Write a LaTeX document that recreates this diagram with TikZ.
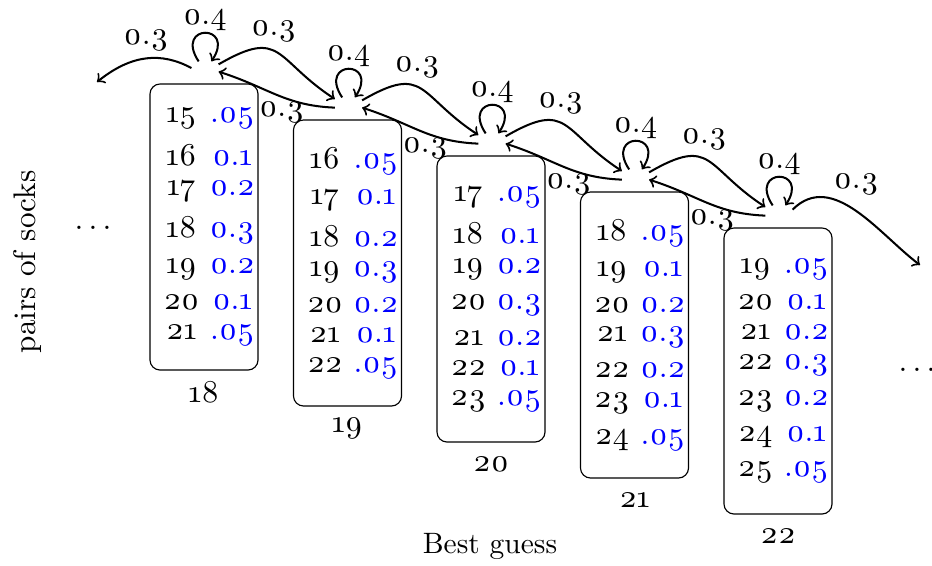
\documentclass[tikz,border=0pt]{standalone}
\usepackage{fontspec}
\setmainfont{lmroman10-regular}[Extension=.otf, Numbers=OldStyle]
\usetikzlibrary{matrix}
\begin{document}
\begin{tikzpicture}[x=0.3461pt,y=0.3461pt,
  font=\fontsize{11}{13}\selectfont,
  st/.style={inner sep=0pt, minimum width=9pt, minimum height=4.15pt},
  edge/.style={line width=0.7pt,->},
  frame/.style={draw, thin, rounded corners=3.5pt, minimum width=37.4pt, minimum height=99pt, inner sep=0pt},
  tab/.style={matrix of nodes, inner sep=0pt, column sep=0.7pt, row sep=0.3pt,
    nodes={inner xsep=1.5pt, inner ysep=2.3pt},
    column 2/.style={nodes={text=blue}}},
  lab/.style={inner sep=3pt}
]
\useasboundingbox (0,0) rectangle (932,565);

% states
\node[st] (s1) at (205,497) {};
\node[st] (s2) at (348.5,461) {};
\node[st] (s3) at (492,425) {};
\node[st] (s4) at (635.5,389) {};
\node[st] (s5) at (779,353) {};

% frames
\node[frame] (f1) at (204,338) {};
\node[frame] (f2) at (347.5,302) {};
\node[frame] (f3) at (491,266) {};
\node[frame] (f4) at (634.5,230) {};
\node[frame] (f5) at (778,194) {};

\matrix (m1) [tab] at ([xshift=1.8pt]f1.center) {
15 & .05\\ 16 & 0.1\\ 17 & 0.2\\ 18 & 0.3\\ 19 & 0.2\\ 20 & 0.1\\ 21 & .05\\};
\matrix (m2) [tab] at ([xshift=1.8pt]f2.center) {
16 & .05\\ 17 & 0.1\\ 18 & 0.2\\ 19 & 0.3\\ 20 & 0.2\\ 21 & 0.1\\ 22 & .05\\};
\matrix (m3) [tab] at ([xshift=1.8pt]f3.center) {
17 & .05\\ 18 & 0.1\\ 19 & 0.2\\ 20 & 0.3\\ 21 & 0.2\\ 22 & 0.1\\ 23 & .05\\};
\matrix (m4) [tab] at ([xshift=1.8pt]f4.center) {
18 & .05\\ 19 & 0.1\\ 20 & 0.2\\ 21 & 0.3\\ 22 & 0.2\\ 23 & 0.1\\ 24 & .05\\};
\matrix (m5) [tab] at ([xshift=1.8pt]f5.center) {
19 & .05\\ 20 & 0.1\\ 21 & 0.2\\ 22 & 0.3\\ 23 & 0.2\\ 24 & 0.1\\ 25 & .05\\};

\node (l1) at ([yshift=-7.5pt]f1.south) {18};
\node (l2) at ([yshift=-7.5pt]f2.south) {19};
\node (l3) at ([yshift=-7.5pt]f3.south) {20};
\node (l4) at ([yshift=-7.5pt]f4.south) {21};
\node (l5) at ([yshift=-7.5pt]f5.south) {22};

% loops
\draw[edge] ([xshift=-2.2pt]s1.north) .. controls +(-25,38) and +(25,38) .. ([xshift=2.2pt]s1.north) node[lab,pos=.5,above=-2.6pt] (p1) {0.4};
\draw[edge] ([xshift=-2.2pt]s2.north) .. controls +(-25,38) and +(25,38) .. ([xshift=2.2pt]s2.north) node[lab,pos=.5,above=-2.6pt] (p2) {0.4};
\draw[edge] ([xshift=-2.2pt]s3.north) .. controls +(-25,38) and +(25,38) .. ([xshift=2.2pt]s3.north) node[lab,pos=.5,above=-2.6pt] (p3) {0.4};
\draw[edge] ([xshift=-2.2pt]s4.north) .. controls +(-25,38) and +(25,38) .. ([xshift=2.2pt]s4.north) node[lab,pos=.5,above=-2.6pt] (p4) {0.4};
\draw[edge] ([xshift=-2.2pt]s5.north) .. controls +(-25,38) and +(25,38) .. ([xshift=2.2pt]s5.north) node[lab,pos=.5,above=-2.6pt] (p5) {0.4};

% forward edges
\draw[edge] (s1.15) .. controls +(64,37) and +(-61,40) .. (s2.160) node[lab,pos=.45,above=-0.4pt] (a12) {0.3};
\draw[edge] (s2.15) .. controls +(64,37) and +(-61,40) .. (s3.160) node[lab,pos=.45,above=-0.4pt] (a23) {0.3};
\draw[edge] (s3.15) .. controls +(64,37) and +(-61,40) .. (s4.160) node[lab,pos=.45,above=-0.4pt] (a34) {0.3};
\draw[edge] (s4.15) .. controls +(64,37) and +(-61,40) .. (s5.160) node[lab,pos=.45,above=-0.4pt] (a45) {0.3};

% backward edges
\draw[edge] (s2.195) .. controls +(-50,2) and +(50,-16) .. (s1.-15) node[lab,pos=.45,below=-1.8pt] (b21) {0.3};
\draw[edge] (s3.195) .. controls +(-50,2) and +(50,-16) .. (s2.-15) node[lab,pos=.45,below=-1.8pt] (b32) {0.3};
\draw[edge] (s4.195) .. controls +(-50,2) and +(50,-16) .. (s3.-15) node[lab,pos=.45,below=-1.8pt] (b43) {0.3};
\draw[edge] (s5.195) .. controls +(-50,2) and +(50,-16) .. (s4.-15) node[lab,pos=.45,below=-1.8pt] (b54) {0.3};

% open ends
\coordinate (L) at (97,483);
\coordinate (R) at (920,300);
\draw[edge] (s1.west) .. controls +(-30,16) and +(35,28) .. (L) node[lab,pos=.5,above=-0.8pt] (a10) {0.3};
\draw[edge] (s5.10) .. controls +(40,40) and +(-40,30) .. (R) node[lab,pos=.5,above=2pt] (a56) {0.3};

% dots and axis labels
\node (dl) at (93,337) {$\ldots$};
\node (dr) at (917,195) {$\ldots$};
\node[rotate=90, font=\fontsize{10.8}{13}\selectfont] (yl) at (28,303) {pairs of socks};
\node[font=\fontsize{10.2}{12}\selectfont] (xl) at (490,19) {Best guess};
\end{tikzpicture}
\end{document}
